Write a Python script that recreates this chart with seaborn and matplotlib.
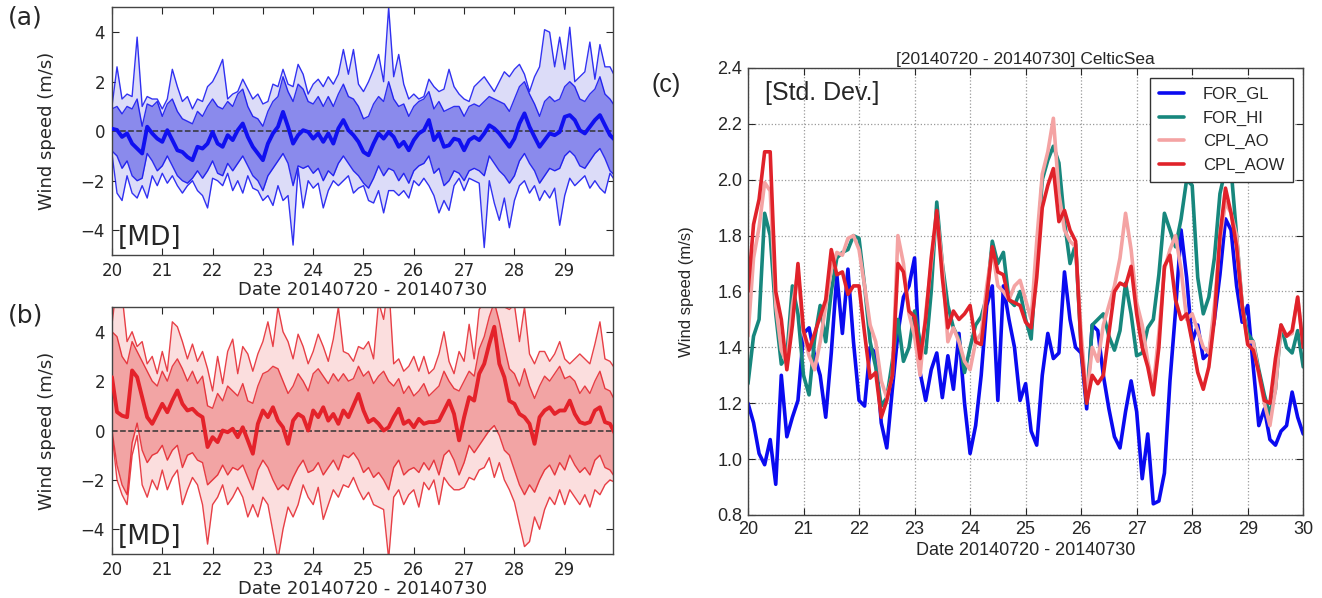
import numpy as np
import pandas as pd
import matplotlib
matplotlib.use("Agg")
import matplotlib.pyplot as plt
import seaborn as sns

# time axis: 20 -> 30 July 2014, every 0.1 day
days = np.round(np.linspace(20, 30, 101), 1)

# ---- panel (a): mean difference FOR_GL (blue)
mean_a = [0.10, 0.05, -0.23, -0.09, -0.50, -0.70, -0.90, 0.18, -0.09, -0.30,
          -0.43, 0.04, -0.36, -0.77, -0.84, -1.04, -1.17, -0.63, -0.70, -0.50,
          -0.03, -0.50, -0.63, -0.16, -0.36, 0.04, 0.31, -0.23, -0.63, -0.90,
          -1.17, -0.50, -0.09, 0.18, 0.78, 0.18, -0.50, -0.16, 0.04, -0.03,
          -0.30, -0.09, -0.43, -0.09, -0.50, 0.11, 0.45, 0.04, -0.16, -0.43,
          -0.84, -0.97, -0.50, -0.09, -0.30, -0.03, -0.23, -0.63, -0.43, -0.77,
          -0.36, -0.09, 0.04, 0.45, -0.36, -0.09, -0.63, -0.57, -0.30, -0.36,
          -0.77, -0.36, -0.23, -0.36, -0.09, 0.24, 0.11, -0.09, -0.36, -0.63,
          -0.30, 0.31, 0.72, 0.18, -0.23, -0.63, -0.36, -0.09, -0.16, -0.03,
          0.58, 0.65, 0.45, 0.04, -0.09, 0.18, 0.45, 0.65, 0.24, -0.16,
          -0.36]
hi1_a = [0.9, 1.0, 0.7, 1.0, 0.9, 1.3, 0.2, 1.1, 1.0, 1.2,
         0.6, 1.1, 1.3, 0.8, 0.5, 0.4, 0.3, 0.8, 0.6, 1.0,
         1.3, 1.0, 0.9, 1.2, 1.0, 1.5, 1.7, 1.0, 0.6, 0.5,
         0.2, 0.8, 1.2, 1.4, 2.2, 1.6, 1.2, 1.9, 1.7, 1.2,
         1.1, 1.4, 1.0, 1.4, 1.0, 1.5, 1.9, 1.4, 1.3, 1.0,
         0.5, 0.6, 1.1, 1.4, 1.2, 2.0, 1.3, 1.0, 1.1, 0.6,
         1.0, 1.2, 1.3, 1.6, 0.9, 1.2, 0.8, 0.9, 1.0, 1.0,
         0.6, 1.0, 1.1, 1.0, 1.2, 1.4, 1.3, 1.2, 1.1, 0.8,
         1.3, 1.8, 2.0, 1.5, 1.1, 0.6, 1.2, 1.4, 1.2, 1.3,
         1.8, 2.0, 1.8, 1.3, 1.2, 1.5, 1.7, 2.2, 1.5, 1.3,
         1.0]
lo1_a = [-0.8, -1.0, -1.5, -1.2, -1.8, -2.0, -1.9, -0.9, -1.2, -1.6,
         -1.4, -1.0, -1.4, -1.8, -2.0, -2.1, -1.9, -1.6, -1.9, -1.6,
         -1.2, -1.7, -1.8, -1.3, -1.6, -1.3, -1.0, -1.4, -1.8, -2.0,
         -2.4, -1.8, -1.5, -1.2, -0.9, -1.3, -2.2, -1.4, -1.5, -1.4,
         -1.7, -1.5, -2.0, -1.6, -1.8, -1.3, -1.0, -1.3, -1.6, -1.8,
         -2.1, -2.3, -1.9, -1.4, -1.8, -1.5, -1.6, -2.0, -1.7, -2.1,
         -1.6, -1.4, -1.3, -1.0, -1.7, -1.5, -2.2, -2.0, -1.6, -1.7,
         -2.0, -1.6, -1.5, -1.6, -1.8, -1.0, -1.3, -1.6, -1.8, -2.1,
         -1.8, -1.2, -0.9, -1.3, -1.6, -2.1, -1.8, -1.5, -1.6, -1.5,
         -1.0, -0.8, -1.0, -1.4, -1.5, -1.2, -0.9, -0.7, -1.1, -1.6,
         -1.8]
hi2_a = [1.0, 2.6, 1.3, 1.5, 1.4, 3.8, 1.0, 1.4, 1.3, 1.3,
         0.9, 1.3, 2.5, 1.8, 1.2, 1.4, 0.9, 1.3, 1.2, 1.8,
         2.0, 2.4, 2.9, 1.3, 1.5, 1.6, 2.1, 1.7, 1.3, 1.5,
         1.1, 1.2, 1.9, 1.8, 2.5, 1.9, 1.8, 2.7, 2.3, 1.5,
         1.9, 2.1, 1.8, 2.2, 1.9, 2.3, 3.3, 2.3, 3.3, 1.9,
         1.6, 2.0, 2.5, 3.1, 2.0, 5.0, 2.2, 3.1, 1.9, 1.3,
         1.5, 1.3, 1.4, 2.1, 1.8, 1.6, 1.7, 2.5, 1.8, 1.5,
         1.3, 1.2, 1.8, 2.0, 2.2, 1.9, 1.6, 2.0, 2.4, 2.2,
         2.5, 2.7, 2.3, 1.6, 2.2, 2.6, 4.1, 4.0, 2.6, 3.8,
         2.5, 4.2, 2.0, 2.2, 2.4, 3.6, 2.1, 3.5, 2.6, 2.6,
         2.2]
lo2_a = [-0.9, -2.5, -2.8, -1.8, -2.5, -2.7, -2.2, -2.7, -1.8, -2.2,
         -1.7, -2.1, -1.8, -2.2, -2.5, -2.2, -2.0, -2.4, -2.6, -3.1,
         -1.9, -2.0, -2.2, -1.7, -2.4, -2.0, -2.5, -1.8, -2.3, -2.4,
         -2.8, -2.6, -3.0, -2.2, -2.8, -2.6, -4.6, -1.5, -3.1, -2.0,
         -2.3, -2.1, -3.1, -2.4, -2.0, -2.2, -2.0, -1.8, -2.5, -2.3,
         -2.2, -2.8, -2.9, -2.4, -3.3, -2.4, -2.4, -2.6, -2.4, -2.7,
         -2.0, -2.2, -1.9, -2.2, -2.6, -3.3, -2.8, -3.2, -2.2, -1.9,
         -2.4, -1.9, -2.0, -2.1, -4.7, -2.0, -2.9, -3.6, -2.7, -3.9,
         -2.8, -2.2, -2.0, -2.5, -2.2, -2.8, -2.4, -2.7, -2.3, -3.8,
         -2.6, -1.9, -2.2, -2.0, -1.8, -2.3, -2.0, -2.3, -2.5, -1.7,
         -2.0]

# ---- panel (b): mean difference CPL_AOW (red)
mean_b = [2.16, 0.75, 0.60, 0.54, 2.43, 2.16, 1.35, 0.54, 0.27, 0.67,
          1.08, 0.74, 1.21, 1.62, 1.08, 0.81, 0.88, 0.67, 0.54, -0.67,
          -0.27, -0.47, 0.00, -0.07, 0.07, -0.27, 0.13, -0.40, -0.94, 0.27,
          0.81, 0.54, 0.94, 0.40, 0.13, -0.54, 0.40, 0.67, 0.54, 0.00,
          0.81, 0.54, 0.94, 0.40, 0.67, 0.27, 0.81, 0.54, 1.01, 1.48,
          0.81, 0.34, 0.47, 0.27, 0.00, 0.13, 0.54, 0.88, 0.27, 0.40,
          0.13, 0.47, 0.27, 0.34, 0.34, 0.40, 0.80, 1.21, 0.67, -0.40,
          0.54, 1.35, 1.21, 2.30, 2.70, 3.50, 4.20, 2.70, 2.16, 1.20,
          1.08, 0.67, 0.54, 0.27, -0.54, 0.54, 0.81, 0.94, 0.67, 0.81,
          0.81, 1.21, 0.67, 0.34, 0.27, 0.34, 0.81, 0.94, 0.34, 0.27,
          -0.13]
hi1_b = [4.0, 3.8, 3.0, 2.7, 3.6, 3.2, 2.8, 2.4, 2.0, 1.8,
         2.4, 2.0, 2.6, 2.9, 2.5, 2.0, 2.4, 1.9, 2.2, 1.0,
         0.9, 1.5, 1.2, 1.8, 1.6, 1.4, 1.9, 1.2, 1.1, 1.8,
         2.3, 2.4, 2.6, 2.5, 2.0, 1.5, 1.8, 2.3, 2.0, 1.6,
         2.3, 2.5, 2.2, 1.9, 2.3, 2.0, 2.3, 2.0, 2.1, 2.6,
         2.2, 2.4, 1.9, 2.2, 2.4, 2.0, 1.8, 2.1, 1.5, 1.8,
         1.4, 1.6, 1.9, 1.4, 1.6, 1.8, 2.4, 2.0, 1.7, 1.6,
         2.0, 2.4, 2.2, 3.3, 3.8, 4.6, 5.2, 4.4, 3.4, 2.5,
         2.3, 1.8, 2.5, 1.8, 1.3, 1.8, 2.2, 2.0, 2.3, 2.6,
         2.1, 2.2, 2.0, 1.5, 1.8, 1.5, 2.0, 2.4, 1.7, 1.6,
         1.2]
lo1_b = [0.0, -1.4, -2.2, -2.6, -0.5, 0.3, -0.8, -1.3, -1.0, -0.9,
         -0.6, -1.2, -0.8, -0.6, -1.5, -1.0, -0.9, -1.2, -1.3, -2.2,
         -2.0, -1.8, -1.4, -1.8, -1.5, -1.6, -1.4, -1.9, -2.4, -1.6,
         -1.2, -1.5, -2.0, -2.4, -2.2, -2.4, -1.9, -1.5, -1.2, -1.7,
         -1.6, -1.3, -1.8, -1.5, -1.2, -1.6, -1.0, -1.1, -0.9, -1.2,
         -1.7, -1.5, -1.9, -1.7, -2.0, -2.4, -1.5, -1.2, -1.8, -1.6,
         -1.5, -1.7, -1.3, -1.6, -1.2, -1.8, -1.0, -0.8, -1.2, -1.8,
         -1.3, -0.6, -0.9, -0.6, -0.3, 0.0, 0.2, -0.2, -0.8, -1.0,
         -1.6, -2.2, -2.6, -2.2, -2.5, -2.0, -1.6, -1.4, -1.8, -1.3,
         -1.6, -1.0, -1.4, -1.7, -1.5, -1.8, -1.2, -1.0, -1.5, -1.6,
         -1.9]
hi2_b = [4.3, 6.0, 5.5, 3.6, 4.0, 3.4, 3.6, 2.7, 3.0, 2.3,
         3.2, 2.4, 4.4, 4.2, 3.6, 2.9, 3.5, 2.8, 3.2, 2.5,
         1.6, 3.0, 1.9, 3.2, 3.7, 2.3, 3.4, 3.1, 2.4, 3.1,
         3.6, 4.4, 3.4, 5.0, 4.0, 3.6, 2.9, 3.9, 3.4, 2.7,
         3.2, 3.9, 3.4, 2.8, 3.7, 5.0, 3.2, 3.1, 2.8, 3.4,
         3.3, 3.6, 2.9, 5.2, 4.5, 6.0, 2.7, 2.9, 2.4, 2.6,
         3.0, 2.4, 3.0, 2.3, 2.5, 3.1, 4.0, 2.8, 2.3, 3.2,
         2.8, 4.3, 2.9, 4.9, 5.2, 5.5, 6.0, 5.3, 5.0, 4.9,
         5.1, 3.6, 5.0, 3.1, 2.7, 3.2, 3.2, 2.8, 3.1, 3.6,
         2.9, 2.7, 2.9, 3.1, 2.9, 2.7, 3.5, 4.4, 2.9, 2.8,
         2.5]
lo2_b = [-0.1, -2.0, -2.6, -3.0, -1.0, -0.2, -2.2, -2.7, -2.0, -2.4,
         -1.6, -2.4, -1.9, -1.6, -3.0, -2.4, -1.9, -2.2, -3.0, -4.6,
         -3.0, -2.7, -2.2, -3.0, -2.7, -2.3, -2.7, -3.5, -3.0, -3.5,
         -2.7, -3.0, -4.1, -5.2, -4.0, -3.1, -3.5, -3.0, -2.2, -2.7,
         -3.0, -2.3, -3.6, -3.0, -2.4, -2.7, -2.2, -2.3, -1.9, -2.4,
         -2.8, -2.5, -3.0, -3.1, -3.2, -5.2, -2.7, -2.4, -3.0, -2.6,
         -2.4, -3.1, -2.1, -2.4, -2.0, -3.0, -1.9, -2.2, -2.4, -2.4,
         -2.3, -1.9, -2.0, -1.6, -1.5, -1.1, -1.9, -1.3, -2.0, -2.4,
         -2.9, -3.8, -4.7, -4.5, -3.5, -4.0, -3.2, -2.7, -3.0, -2.4,
         -3.0, -2.4, -2.7, -3.0, -2.6, -3.1, -2.4, -2.6, -2.2, -2.0,
         -2.1]

# ---- panel (c): std. dev. CelticSea
runs = ["FOR_GL", "FOR_HI", "CPL_AO", "CPL_AOW"]
run_colors = ["#0a0af0", "#17877d", "#f4a3a3", "#e0222a"]
for_gl = [1.20, 1.13, 1.02, 0.98, 1.07, 0.91, 1.30, 1.08, 1.15, 1.21,
          1.45, 1.47, 1.37, 1.30, 1.15, 1.38, 1.66, 1.45, 1.68, 1.42,
          1.21, 1.19, 1.40, 1.38, 1.13, 1.04, 1.25, 1.45, 1.58, 1.62,
          1.72, 1.31, 1.21, 1.32, 1.38, 1.22, 1.37, 1.25, 1.45, 1.20,
          1.02, 1.12, 1.30, 1.55, 1.62, 1.21, 1.62, 1.50, 1.40, 1.21,
          1.27, 1.10, 1.05, 1.30, 1.45, 1.36, 1.38, 1.67, 1.50, 1.40,
          1.38, 1.18, 1.48, 1.46, 1.30, 1.18, 1.08, 1.04, 1.17, 1.28,
          1.17, 0.93, 1.09, 0.84, 0.85, 0.95, 1.28, 1.53, 1.82, 1.65,
          1.42, 1.48, 1.36, 1.38, 1.50, 1.66, 1.86, 1.82, 1.62, 1.49,
          1.55, 1.33, 1.12, 1.18, 1.07, 1.05, 1.10, 1.12, 1.24, 1.15,
          1.09]
for_hi = [1.27, 1.44, 1.50, 1.88, 1.80, 1.52, 1.34, 1.37, 1.62, 1.52,
          1.30, 1.23, 1.43, 1.55, 1.42, 1.60, 1.72, 1.74, 1.75, 1.80,
          1.79, 1.62, 1.42, 1.33, 1.19, 1.22, 1.35, 1.50, 1.35, 1.40,
          1.53, 1.42, 1.38, 1.60, 1.92, 1.70, 1.55, 1.47, 1.43, 1.31,
          1.40, 1.48, 1.51, 1.58, 1.78, 1.70, 1.74, 1.57, 1.55, 1.60,
          1.50, 1.43, 1.72, 2.00, 2.07, 2.12, 2.06, 1.85, 1.70, 1.77,
          1.40, 1.20, 1.48, 1.50, 1.52, 1.44, 1.39, 1.46, 1.63, 1.52,
          1.37, 1.38, 1.47, 1.50, 1.66, 1.88, 1.82, 1.76, 1.86, 2.00,
          1.98, 1.65, 1.52, 1.58, 1.72, 1.95, 2.04, 2.04, 1.80, 1.55,
          1.45, 1.42, 1.32, 1.23, 1.16, 1.25, 1.48, 1.40, 1.38, 1.46,
          1.33]
cpl_ao = [1.44, 1.72, 1.83, 1.99, 1.96, 1.55, 1.39, 1.34, 1.55, 1.67,
          1.45, 1.37, 1.32, 1.42, 1.55, 1.68, 1.74, 1.73, 1.79, 1.80,
          1.75, 1.62, 1.48, 1.42, 1.28, 1.22, 1.30, 1.80, 1.70, 1.52,
          1.44, 1.30, 1.52, 1.70, 1.88, 1.70, 1.42, 1.47, 1.42, 1.35,
          1.32, 1.42, 1.45, 1.62, 1.75, 1.62, 1.60, 1.57, 1.62, 1.64,
          1.57, 1.50, 1.78, 2.02, 2.10, 2.22, 1.95, 1.82, 1.78, 1.76,
          1.45, 1.22, 1.40, 1.35, 1.48, 1.55, 1.62, 1.72, 1.88, 1.75,
          1.56, 1.48, 1.35, 1.26, 1.45, 1.68, 1.75, 1.80, 1.68, 1.50,
          1.52, 1.46, 1.40, 1.38, 1.55, 1.78, 1.92, 1.88, 1.80, 1.55,
          1.42, 1.42, 1.30, 1.20, 1.12, 1.25, 1.48, 1.44, 1.45, 1.58,
          1.40]
cpl_aow = [1.60, 1.84, 1.93, 2.10, 2.10, 1.60, 1.50, 1.32, 1.48, 1.70,
           1.46, 1.39, 1.45, 1.51, 1.57, 1.75, 1.66, 1.67, 1.59, 1.62,
           1.62, 1.45, 1.29, 1.31, 1.15, 1.21, 1.30, 1.70, 1.67, 1.53,
           1.51, 1.36, 1.50, 1.72, 1.89, 1.65, 1.47, 1.53, 1.50, 1.52,
           1.55, 1.42, 1.41, 1.58, 1.76, 1.67, 1.66, 1.57, 1.56, 1.55,
           1.49, 1.47, 1.65, 1.90, 1.98, 2.04, 1.85, 1.89, 1.82, 1.78,
           1.40, 1.20, 1.30, 1.27, 1.30, 1.45, 1.60, 1.63, 1.62, 1.69,
           1.52, 1.40, 1.33, 1.23, 1.40, 1.69, 1.73, 1.57, 1.50, 1.52,
           1.42, 1.31, 1.25, 1.33, 1.50, 1.80, 1.97, 1.88, 1.76, 1.55,
           1.41, 1.39, 1.31, 1.21, 1.20, 1.36, 1.48, 1.44, 1.46, 1.58,
           1.40]

sns.set_style("ticks")
plt.rcParams.update({
    "font.family": ["DejaVu Sans"],
    "xtick.direction": "in", "ytick.direction": "in",
    "xtick.top": True, "ytick.right": True,
    "axes.edgecolor": "#444444", "axes.linewidth": 1.0,
})

fig = plt.figure(figsize=(13.22, 5.98), dpi=100)


def band_panel(ax, mean, hi1, lo1, hi2, lo2, line_c, fill_in, fill_out):
    df = pd.DataFrame({"day": days, "mean": mean, "hi1": hi1, "lo1": lo1,
                       "hi2": hi2, "lo2": lo2})
    ax.fill_between(df["day"], df["lo2"], df["hi2"], color=fill_out, lw=0)
    ax.fill_between(df["day"], df["lo1"], df["hi1"], color=fill_in, lw=0)
    for col in ["hi2", "lo2", "hi1", "lo1"]:
        sns.lineplot(data=df, x="day", y=col, ax=ax, color=line_c, lw=1.0, alpha=0.85)
    ax.axhline(0, ls="--", color="#333333", lw=1.1, zorder=3)
    sns.lineplot(data=df, x="day", y="mean", ax=ax, color=line_c, lw=2.8, zorder=4)
    ax.set_xlim(20, 29.96)
    ax.set_ylim(-5, 5)
    ax.set_xticks(range(20, 30))
    ax.set_yticks([-4, -2, 0, 2, 4])
    ax.tick_params(labelsize=12, length=5, pad=5)
    ax.set_xlabel("Date 20140720 - 20140730", fontsize=13, labelpad=1)
    ax.set_ylabel("Wind speed (m/s)", fontsize=13)
    ax.yaxis.set_label_coords(-0.112, 0.5)
    ax.text(0.012, 0.07, "[MD]", transform=ax.transAxes, fontsize=19,
            va="center", ha="left", zorder=5)


ax_a = fig.add_axes([0.0847, 0.5736, 0.379, 0.414])
band_panel(ax_a, mean_a, hi1_a, lo1_a, hi2_a, lo2_a,
           "#1010f0", "#8a8aec", "#dcdcf8")
ax_b = fig.add_axes([0.0847, 0.0736, 0.379, 0.413])
band_panel(ax_b, mean_b, hi1_b, lo1_b, hi2_b, lo2_b,
           "#e4222a", "#f2a4a4", "#fbdede")

fig.text(0.006, 0.97, "(a)", fontsize=18, va="center")
fig.text(0.006, 0.473, "(b)", fontsize=18, va="center")

# ---- panel (c)  (Arial-like face)
arial = ["Liberation Sans", "DejaVu Sans"]
fig.text(0.493, 0.858, "(c)", fontsize=18, va="center", family=arial)
ax_c = fig.add_axes([0.5658, 0.1388, 0.420, 0.7475])
std_df = pd.DataFrame({"day": np.tile(days, 4),
                       "run": np.repeat(runs, len(days)),
                       "std": for_gl + for_hi + cpl_ao + cpl_aow})
sns.lineplot(data=std_df, x="day", y="std", hue="run", hue_order=runs,
             palette=run_colors, lw=2.6, ax=ax_c)
ax_c.set_xlim(20, 30)
ax_c.set_ylim(0.8, 2.4)
ax_c.set_xticks(range(20, 31))
yt = [0.8, 1.0, 1.2, 1.4, 1.6, 1.8, 2.0, 2.2, 2.4]
ax_c.set_yticks(yt)
ax_c.set_yticklabels([f"{v:.1f}" for v in yt])
ax_c.grid(True, ls=":", color="#999999", lw=0.9)
ax_c.tick_params(labelsize=13, length=5, pad=4)
for lab in ax_c.get_xticklabels() + ax_c.get_yticklabels():
    lab.set_family(arial)
ax_c.set_xlabel("Date 20140720 - 20140730", fontsize=13, family=arial, labelpad=3)
ax_c.set_ylabel("Wind speed (m/s)", fontsize=12, family=arial)
ax_c.yaxis.set_label_coords(-0.097, 0.5)
ax_c.set_title("[20140720 - 20140730] CelticSea", fontsize=12.5, family=arial, pad=3)
ax_c.text(0.03, 0.945, "[Std. Dev.]", transform=ax_c.transAxes, fontsize=18,
          family=arial, va="center", ha="left")
leg = ax_c.legend(loc="upper right", prop={"family": arial, "size": 12},
                  fancybox=False, framealpha=1, edgecolor="#333333",
                  handlelength=1.5, handletextpad=1.1, borderaxespad=0.6,
                  labelspacing=0.5, borderpad=0.55)
for h in leg.get_lines():
    h.set_linewidth(2.6)

fig.savefig("out.png", dpi=100)
